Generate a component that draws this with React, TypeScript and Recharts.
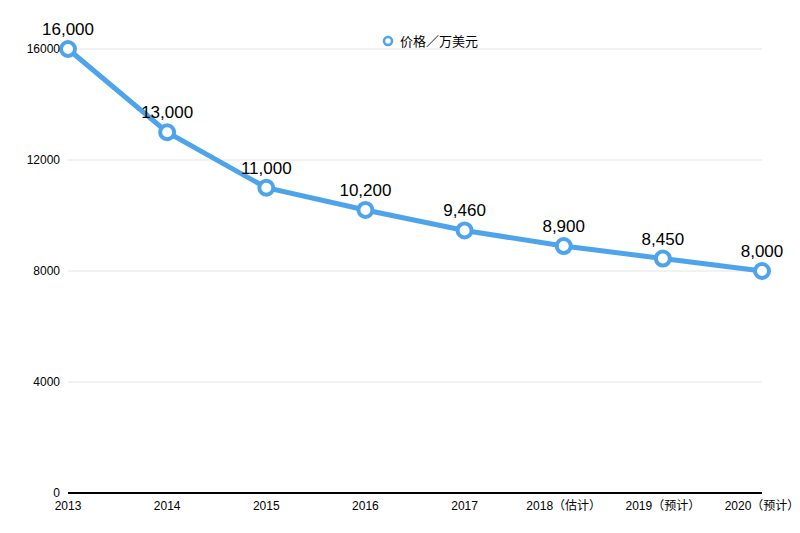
import { LineChart, Line, XAxis, YAxis, CartesianGrid, LabelList, Legend } from 'recharts'

const years = ['2013', '2014', '2015', '2016', '2017', '2018（估计）', '2019（预计）', '2020（预计）']
const prices = [16000, 13000, 11000, 10200, 9460, 8900, 8450, 8000]
const yTicks = [0, 4000, 8000, 12000, 16000]

const data = years.map((year, i) => ({ year, price: prices[i] }))

const BLUE = '#4ea4ea'
const FONT = '"Liberation Sans", "Noto Sans CJK SC", sans-serif'

function LegendBox() {
  return (
    <div style={{ display: 'flex', justifyContent: 'center', alignItems: 'center', fontSize: 13, color: '#000', fontFamily: FONT, paddingLeft: 60 }}>
      <svg width={12} height={12} style={{ marginRight: 6 }}>
        <circle cx={6} cy={6} r={4} fill="#fff" stroke={BLUE} strokeWidth={2.5} />
      </svg>
      价格／万美元
    </div>
  )
}

export default function App() {
  return (
    <div style={{ position: 'absolute', left: 0, top: 0, background: '#fff', fontFamily: FONT }}>
      <LineChart width={800} height={533} data={data} margin={{ top: 49, right: 38, bottom: 0, left: 0 }}>
        <CartesianGrid vertical={false} stroke="#e4e4e4" />
        <XAxis
          dataKey="year"
          height={40}
          stroke="#000"
          strokeWidth={2}
          tickLine={false}
          tick={{ fill: '#000', fontSize: 12, fontFamily: FONT }}
          interval={0}
        />
        <YAxis
          width={68}
          domain={[0, 16000]}
          ticks={yTicks}
          axisLine={false}
          tickLine={false}
          tick={{ fill: '#000', fontSize: 12, fontFamily: FONT }}
        />
        <Legend
          verticalAlign="top"
          content={() => <LegendBox />}
          wrapperStyle={{ position: 'absolute', top: 31, left: 0, width: 800, height: 0 }}
          height={0}
        />
        <Line
          name="价格／万美元"
          dataKey="price"
          stroke={BLUE}
          strokeWidth={5}
          dot={{ r: 7, fill: '#fff', stroke: BLUE, strokeWidth: 4 }}
          isAnimationActive={false}
        >
          <LabelList
            dataKey="price"
            position="top"
            offset={14}
            formatter={(v: number) => v.toLocaleString('en-US')}
            style={{ fill: '#000', fontSize: 17, fontFamily: FONT }}
          />
        </Line>
      </LineChart>
    </div>
  )
}
